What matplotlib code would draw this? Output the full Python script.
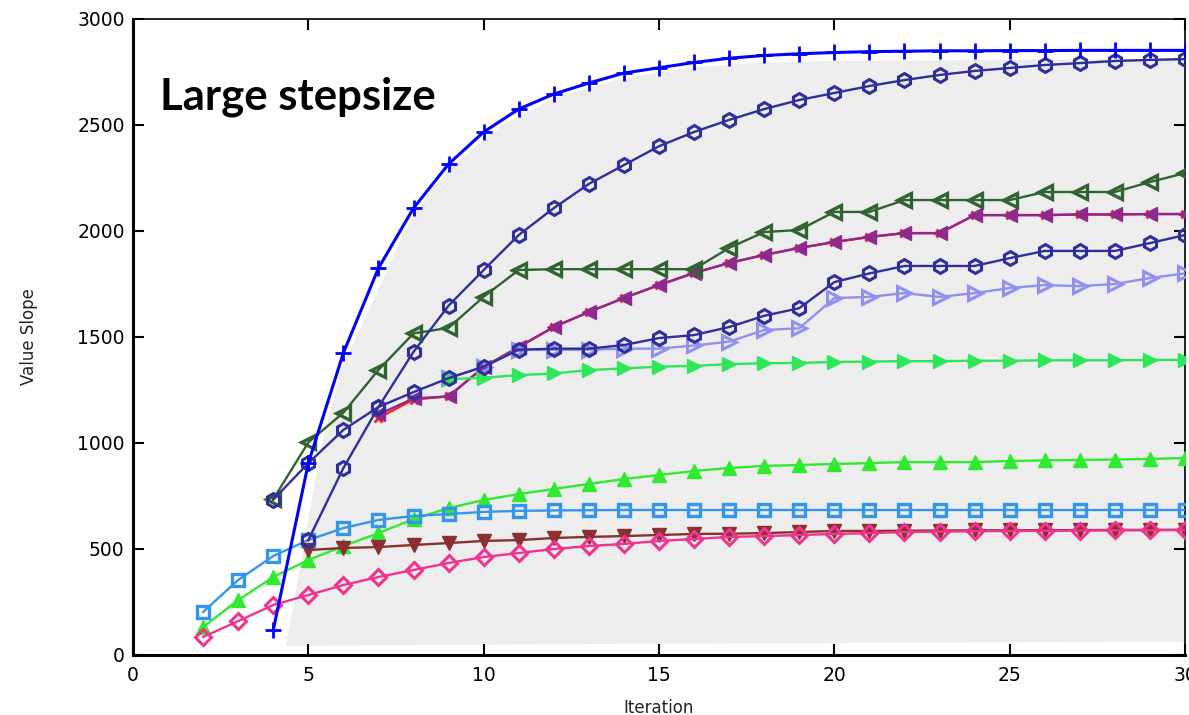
import matplotlib
matplotlib.use("Agg")
import matplotlib.pyplot as plt

# iteration axis for the different runs
x_from2 = list(range(2, 31))
x_from4 = list(range(4, 31))
x_from5 = list(range(5, 31))
x_from7 = list(range(7, 31))
x_from9 = list(range(9, 31))

blue_plus = [118, 905, 1425, 1825, 2108, 2316, 2467, 2575, 2646, 2698, 2745, 2770, 2795,
             2815, 2828, 2836, 2842, 2846, 2848, 2850, 2850, 2851, 2851, 2852, 2852, 2852, 2852]
navy_a = [733, 905, 1062, 1170, 1240, 1306, 1360, 1440, 1445, 1445, 1462, 1495, 1509, 1547,
          1600, 1636, 1759, 1800, 1835, 1835, 1835, 1872, 1906, 1906, 1906, 1943, 1981]
dark_green = [735, 1003, 1143, 1345, 1517, 1543, 1690, 1816, 1820, 1820, 1820, 1820, 1820,
              1920, 1995, 2005, 2090, 2090, 2146, 2146, 2146, 2146, 2184, 2184, 2184, 2231, 2273]
navy_b = [542, 882, 1170, 1430, 1648, 1816, 1981, 2108, 2222, 2311, 2400, 2467, 2524, 2575,
          2618, 2651, 2684, 2712, 2736, 2755, 2769, 2783, 2792, 2802, 2807, 2811]
purple = [1135, 1210, 1220, 1358, 1453, 1547, 1618, 1684, 1745, 1802, 1849, 1887, 1920,
          1948, 1972, 1990, 1990, 2075, 2075, 2075, 2078, 2078, 2080, 2080]
red_x = [1118, 1205, 1220, 1358, 1453, 1547, 1618, 1684, 1745, 1802, 1849, 1887, 1920,
         1948, 1972, 1990, 1990, 2075, 2075, 2075, 2078, 2078, 2080, 2080]
lavender = [1306, 1360, 1440, 1440, 1440, 1445, 1445, 1460, 1478, 1533, 1541, 1684, 1689,
            1707, 1689, 1707, 1731, 1745, 1740, 1750, 1778, 1800]
green_right = [1300, 1308, 1320, 1328, 1344, 1352, 1360, 1364, 1372, 1376, 1378, 1382, 1384,
               1386, 1386, 1388, 1388, 1390, 1390, 1390, 1392, 1392]
green_up = [132, 259, 368, 448, 514, 575, 641, 693, 731, 759, 783, 807, 830, 849, 868, 882,
            892, 896, 901, 905, 910, 910, 910, 915, 918, 920, 922, 925, 929]
light_blue = [203, 354, 467, 542, 599, 637, 656, 665, 675, 680, 682, 683, 684, 684, 684, 684,
              684, 684, 684, 684, 684, 684, 684, 684, 684, 684, 684, 684, 684]
brown = [495, 505, 509, 519, 528, 538, 542, 552, 557, 561, 566, 571, 572, 575, 580, 585,
         585, 586, 587, 588, 588, 589, 589, 590, 590, 590]
pink = [85, 160, 236, 283, 330, 368, 401, 434, 462, 481, 500, 514, 524, 538, 547, 557, 561,
        566, 571, 575, 580, 582, 584, 585, 586, 587, 588, 589, 590]

# grey background band
band_x = [4.35, 5.33, 5.9, 6.84, 7.7, 8.5, 9.3, 10.5, 12, 14, 16, 18, 20, 25, 30]
band_top = [45, 967, 1344, 1675, 1990, 2200, 2340, 2500, 2630, 2725, 2775, 2798, 2805, 2810, 2815]
band_bottom = [45, 46, 47, 48, 49, 50, 51, 52, 53, 55, 56, 58, 59, 62, 65]

fig = plt.figure(figsize=(11.89, 7.15), dpi=100)
ax = fig.add_axes([133 / 1189, 1 - 655 / 715, (1185 - 133) / 1189, (655 - 19) / 715])

ax.fill_between(band_x, band_bottom, band_top, color="#ededed", lw=0, zorder=0)

lw = 1.7
ms = 9
# red run mostly hidden under the other ones
ax.plot(x_from7, red_x, color="#ff2020", marker="x", ms=6, mew=2, lw=lw, zorder=2)

ax.plot(x_from4, blue_plus, color="#0000ff", marker="+", ms=12, mew=2, lw=2.2, zorder=6)
ax.plot(x_from5, navy_b, color="#2e2e9c", marker="h", ms=ms + 1, mfc="none", mew=2.2, lw=lw, zorder=5)
ax.plot(x_from4, navy_a, color="#2e2e9c", marker="h", ms=ms + 1, mfc="none", mew=2.2, lw=lw, zorder=5)
ax.plot(x_from4, dark_green, color="#2f6330", marker="<", ms=ms + 1, mfc="none", mew=2.4, lw=lw, zorder=4)
ax.plot(x_from7, purple, color="#8e2a8e", marker="<", ms=ms + 1, lw=lw, zorder=3)
ax.plot(x_from9, lavender, color="#9090f0", marker=">", ms=ms + 1, mfc="none", mew=2.2, lw=lw, zorder=3)
ax.plot(x_from9, green_right, color="#2ee65a", marker=">", ms=ms + 1, lw=lw, zorder=3)
ax.plot(x_from2, green_up, color="#30ea30", marker="^", ms=ms + 1, lw=lw, zorder=3)
ax.plot(x_from2, light_blue, color="#3496ea", marker="s", ms=ms, mfc="none", mew=2.4, lw=lw, zorder=3)
ax.plot(x_from5, brown, color="#8b3030", marker="v", ms=ms + 1, lw=lw, zorder=3)
ax.plot(x_from2, pink, color="#f0338f", marker="D", ms=ms - 1, mfc="none", mew=2.2, lw=lw, zorder=3)

ax.set_xlim(0, 30)
ax.set_ylim(0, 3000)
ax.set_xticks(range(0, 31, 5))
ax.set_yticks(range(0, 3001, 500))
ax.tick_params(direction="in", length=8, width=1.5, top=True, right=True,
               labelsize=13.5, pad=6, colors="black")
ax.tick_params(axis="x", pad=8)
for side in ["left", "bottom"]:
    ax.spines[side].set_linewidth(2.2)
for side in ["top", "right"]:
    ax.spines[side].set_linewidth(1.2)

ax.set_xlabel("Iteration", fontsize=12, labelpad=10, color="#222222")
ax.set_ylabel("Value Slope", fontsize=12, labelpad=28, color="#222222")

fig.text(160 / 1189, 1 - 97 / 715, "Large stepsize", fontsize=31.5, fontweight="bold",
         family=["Lato", "DejaVu Sans"], va="center", ha="left")

fig.savefig("out.png", dpi=100)
